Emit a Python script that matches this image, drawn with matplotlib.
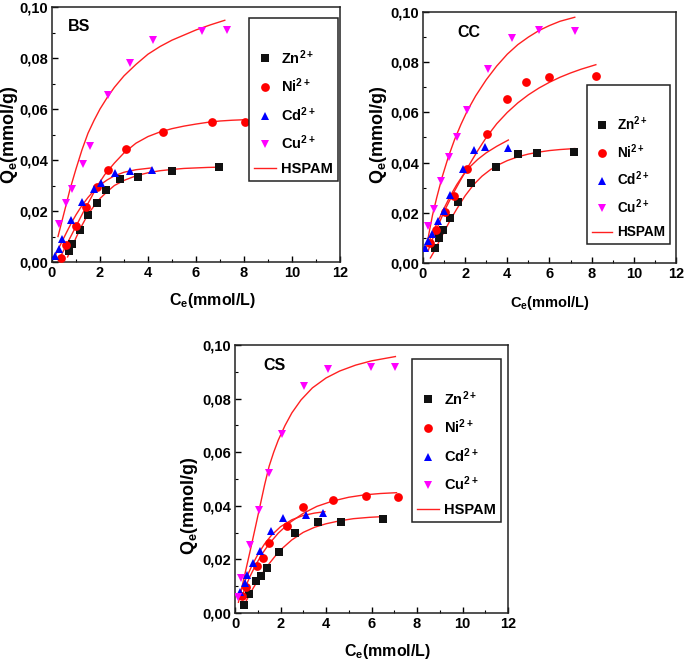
"""
Adsorption isotherms of Zn, Ni, Cd and Cu on BS, CC and CS with HSPAM fits.
"""
import matplotlib
matplotlib.use('Agg')  # no display
import matplotlib.pyplot as plt
from matplotlib.ticker import FixedLocator, MultipleLocator

FONT = 'Liberation Sans'

plt.rcParams['font.family'] = [FONT, 'DejaVu Sans']
plt.rcParams['mathtext.fontset'] = 'custom'
plt.rcParams['mathtext.rm'] = FONT + ':bold'
plt.rcParams['mathtext.bf'] = FONT + ':bold'
plt.rcParams['mathtext.it'] = FONT + ':bold'

# ---------------- data ----------------
ions = ['Zn$^{2+}$', 'Ni$^{2+}$', 'Cd$^{2+}$', 'Cu$^{2+}$']
fit_label = 'HSPAM'
xticks = [0, 2, 4, 6, 8, 10, 12]
yticks = [0.00, 0.02, 0.04, 0.06, 0.08, 0.10]
ytick_labels = ['0,00', '0,02', '0,04', '0,06', '0,08', '0,10']

# BS - measured points
bs_zn_ce = [0.69, 0.83, 1.18, 1.49, 1.86, 2.24, 2.82, 3.58, 5.01, 6.94]
bs_zn_qe = [0.0043, 0.0072, 0.0127, 0.0183, 0.0231, 0.0281, 0.0324, 0.0333, 0.0356, 0.0371]
bs_ni_ce = [0.38, 0.58, 0.99, 1.40, 1.88, 2.32, 3.10, 4.64, 6.65, 8.06]
bs_ni_qe = [0.0017, 0.0065, 0.0140, 0.0214, 0.0294, 0.0360, 0.0443, 0.0510, 0.0548, 0.0548]
bs_cd_ce = [0.11, 0.28, 0.43, 0.81, 1.26, 1.74, 2.03, 2.61, 3.24, 4.18]
bs_cd_qe = [0.0022, 0.0052, 0.0090, 0.0163, 0.0235, 0.0285, 0.0310, 0.0348, 0.0356, 0.0362]
bs_cu_ce = [0.28, 0.60, 0.85, 1.29, 1.58, 2.32, 3.26, 4.19, 6.24, 7.29]
bs_cu_qe = [0.0150, 0.0233, 0.0288, 0.0383, 0.0455, 0.0656, 0.0780, 0.0872, 0.0905, 0.0911]

# BS - HSPAM curves (traced)
bs_zn_fit_ce = [0.65, 0.8, 1.0, 1.2, 1.4, 1.6, 1.8, 2.0, 2.3, 2.6, 3.0, 3.5, 4.0, 4.5, 5.0, 5.5, 6.0, 6.5, 7.0]
bs_zn_fit_qe = [0.0020, 0.0052, 0.0095, 0.0135, 0.0170, 0.0200, 0.0226, 0.0249, 0.0276, 0.0300, 0.0320, 0.0338,
                0.0350, 0.0358, 0.0363, 0.0367, 0.0369, 0.0371, 0.0372]
bs_ni_fit_ce = [0.35, 0.5, 0.7, 1.0, 1.3, 1.6, 1.9, 2.2, 2.6, 3.0, 3.5, 4.0, 4.5, 5.0, 5.5, 6.0, 6.5, 7.0, 7.5, 8.0]
bs_ni_fit_qe = [0.0020, 0.0048, 0.0085, 0.0140, 0.0195, 0.0247, 0.0300, 0.0343, 0.0388, 0.0428, 0.0466, 0.0492,
                0.0510, 0.0523, 0.0533, 0.0541, 0.0548, 0.0553, 0.0556, 0.0558]
bs_cd_fit_ce = [0.1, 0.25, 0.4, 0.6, 0.8, 1.0, 1.25, 1.5, 1.75, 2.0, 2.3, 2.6, 3.0, 3.5, 4.15]
bs_cd_fit_qe = [0.0020, 0.0048, 0.0077, 0.0115, 0.0152, 0.0185, 0.0222, 0.0253, 0.0280, 0.0302, 0.0322, 0.0338,
                0.0352, 0.0362, 0.0369]
bs_cu_fit_ce = [0.25, 0.4, 0.55, 0.75, 1.0, 1.25, 1.5, 1.75, 2.0, 2.3, 2.6, 3.0, 3.5, 4.0, 4.5, 5.0, 5.5, 6.0,
                6.6, 7.2]
bs_cu_fit_qe = [0.0100, 0.0155, 0.0210, 0.0285, 0.0365, 0.0440, 0.0505, 0.0555, 0.0600, 0.0645, 0.0685, 0.0730,
                0.0775, 0.0815, 0.0845, 0.0870, 0.0890, 0.0910, 0.0930, 0.0948]

# CC - measured points
cc_zn_ce = [0.55, 0.75, 0.96, 1.29, 1.65, 2.29, 3.48, 4.53, 5.40, 7.17]
cc_zn_qe = [0.0060, 0.0098, 0.0132, 0.0180, 0.0242, 0.0317, 0.0384, 0.0433, 0.0440, 0.0444]
cc_ni_ce = [0.31, 0.63, 1.05, 1.47, 2.10, 3.03, 4.00, 4.89, 5.96, 8.22]
cc_ni_qe = [0.0079, 0.0132, 0.0205, 0.0268, 0.0373, 0.0515, 0.0652, 0.0720, 0.0742, 0.0744]
cc_cd_ce = [0.11, 0.24, 0.42, 0.69, 0.99, 1.29, 1.88, 2.42, 2.95, 4.03]
cc_cd_qe = [0.0060, 0.0086, 0.0117, 0.0166, 0.0209, 0.0272, 0.0375, 0.0450, 0.0464, 0.0457]
cc_cu_ce = [0.24, 0.50, 0.86, 1.25, 1.62, 2.10, 3.07, 4.20, 5.52, 7.23]
cc_cu_qe = [0.0148, 0.0217, 0.0327, 0.0423, 0.0503, 0.0609, 0.0771, 0.0897, 0.0927, 0.0923]

# CC - HSPAM curves (traced)
cc_zn_fit_ce = [0.35, 0.5, 0.7, 0.9, 1.1, 1.3, 1.6, 2.0, 2.4, 2.8, 3.2, 3.6, 4.0, 4.5, 5.0, 5.5, 6.0, 6.5, 7.2]
cc_zn_fit_qe = [0.0020, 0.0042, 0.0075, 0.0108, 0.0140, 0.0172, 0.0215, 0.0268, 0.0312, 0.0346, 0.0372, 0.0392,
                0.0408, 0.0423, 0.0434, 0.0442, 0.0448, 0.0452, 0.0456]
cc_ni_fit_ce = [0.25, 0.4, 0.7, 1.0, 1.4, 1.8, 2.2, 2.6, 3.0, 3.5, 4.0, 4.5, 5.0, 5.5, 6.0, 6.5, 7.0, 7.5, 8.2]
cc_ni_fit_qe = [0.0050, 0.0085, 0.0145, 0.0205, 0.0272, 0.0333, 0.0392, 0.0448, 0.0500, 0.0555, 0.0600, 0.0638,
                0.0670, 0.0697, 0.0720, 0.0740, 0.0757, 0.0772, 0.0790]
cc_cd_fit_ce = [0.1, 0.3, 0.5, 0.75, 1.0, 1.3, 1.6, 1.9, 2.2, 2.6, 3.0, 3.5, 4.05]
cc_cd_fit_qe = [0.0050, 0.0090, 0.0128, 0.0174, 0.0218, 0.0268, 0.0312, 0.0350, 0.0381, 0.0413, 0.0439, 0.0465,
                0.0490]
cc_cu_fit_ce = [0.15, 0.3, 0.45, 0.65, 0.9, 1.2, 1.5, 1.8, 2.1, 2.5, 3.0, 3.5, 4.0, 4.5, 5.0, 5.5, 6.0, 6.5, 7.2]
cc_cu_fit_qe = [0.0055, 0.0125, 0.0190, 0.0260, 0.0340, 0.0422, 0.0492, 0.0552, 0.0606, 0.0666, 0.0730, 0.0785,
                0.0832, 0.0870, 0.0900, 0.0926, 0.0946, 0.0963, 0.0979]

# CS - measured points
cs_zn_ce = [0.41, 0.61, 0.92, 1.14, 1.40, 1.95, 2.65, 3.63, 4.65, 6.51]
cs_zn_qe = [0.0031, 0.0071, 0.0118, 0.0137, 0.0168, 0.0226, 0.0298, 0.0339, 0.0339, 0.0350]
cs_ni_ce = [0.31, 0.47, 0.98, 1.23, 1.51, 2.28, 2.99, 4.29, 5.75, 7.16]
cs_ni_qe = [0.0065, 0.0097, 0.0174, 0.0205, 0.0261, 0.0325, 0.0395, 0.0420, 0.0437, 0.0432]
cs_cd_ce = [0.22, 0.44, 0.54, 0.78, 1.10, 1.60, 2.12, 3.12, 3.88]
cs_cd_qe = [0.0079, 0.0111, 0.0142, 0.0188, 0.0233, 0.0305, 0.0356, 0.0365, 0.0372]
cs_cu_ce = [0.13, 0.28, 0.65, 1.05, 1.48, 2.05, 3.04, 4.10, 5.97, 7.02]
cs_cu_qe = [0.0060, 0.0131, 0.0255, 0.0386, 0.0524, 0.0667, 0.0847, 0.0911, 0.0919, 0.0919]

# CS - HSPAM curves (traced)
cs_zn_fit_ce = [0.4, 0.6, 0.8, 1.0, 1.25, 1.5, 1.8, 2.1, 2.5, 3.0, 3.5, 4.0, 4.6, 5.2, 5.9, 6.55]
cs_zn_fit_qe = [0.0030, 0.0063, 0.0093, 0.0121, 0.0154, 0.0184, 0.0216, 0.0243, 0.0273, 0.0301, 0.0320, 0.0333,
                0.0344, 0.0352, 0.0357, 0.0360]
cs_ni_fit_ce = [0.3, 0.45, 0.65, 0.9, 1.2, 1.5, 1.9, 2.4, 3.0, 3.6, 4.3, 5.0, 5.7, 6.4, 7.1]
cs_ni_fit_qe = [0.0060, 0.0095, 0.0135, 0.0178, 0.0222, 0.0258, 0.0298, 0.0337, 0.0372, 0.0398, 0.0418, 0.0432,
                0.0441, 0.0446, 0.0449]
cs_cd_fit_ce = [0.15, 0.3, 0.5, 0.75, 1.0, 1.3, 1.6, 2.0, 2.5, 3.0, 3.5, 3.95]
cs_cd_fit_qe = [0.0060, 0.0092, 0.0132, 0.0178, 0.0218, 0.0258, 0.0290, 0.0322, 0.0348, 0.0364, 0.0373, 0.0378]
cs_cu_fit_ce = [0.15, 0.3, 0.5, 0.7, 0.9, 1.1, 1.3, 1.5, 1.7, 1.9, 2.2, 2.5, 2.9, 3.4, 4.0, 4.6, 5.3, 6.0, 7.05]
cs_cu_fit_qe = [0.0040, 0.0095, 0.0170, 0.0245, 0.0322, 0.0400, 0.0478, 0.0548, 0.0600, 0.0645, 0.0700, 0.0747,
                0.0795, 0.0840, 0.0877, 0.0903, 0.0925, 0.0941, 0.0957]

# ---------------- styling ----------------
markers = ['s', 'o', '^', 'v']
colors = ['#111111', '#ff0000', '#0000ff', '#ff00ff']
fit_color = '#ff2020'

panels = [
    dict(name='BS', rect=[0.0759, 0.6042, 0.4204, 0.3852],
         pts=[(bs_zn_ce, bs_zn_qe), (bs_ni_ce, bs_ni_qe), (bs_cd_ce, bs_cd_qe), (bs_cu_ce, bs_cu_qe)],
         fits=[(bs_zn_fit_ce, bs_zn_fit_qe), (bs_ni_fit_ce, bs_ni_fit_qe),
               (bs_cd_fit_ce, bs_cd_fit_qe), (bs_cu_fit_ce, bs_cu_fit_qe)],
         leg=(0.993, 0.957), leg_size=10.5, tag=(0.056, 0.925),
         xlab=(0.556, -0.115, 11.5), ylab=(-0.112, 0.5)),
    dict(name='CC', rect=[0.6175, 0.6027, 0.3693, 0.3792],
         pts=[(cc_zn_ce, cc_zn_qe), (cc_ni_ce, cc_ni_qe), (cc_cd_ce, cc_cd_qe), (cc_cu_ce, cc_cu_qe)],
         fits=[(cc_zn_fit_ce, cc_zn_fit_qe), (cc_ni_fit_ce, cc_ni_fit_qe),
               (cc_cd_fit_ce, cc_cd_fit_qe), (cc_cu_fit_ce, cc_cu_fit_qe)],
         leg=(0.976, 0.709), leg_size=9.8, tag=(0.137, 0.918),
         xlab=(0.5, -0.125, 10.5), ylab=(-0.135, 0.51)),
    dict(name='CS', rect=[0.3431, 0.0740, 0.3985, 0.4048],
         pts=[(cs_zn_ce, cs_zn_qe), (cs_ni_ce, cs_ni_qe), (cs_cd_ce, cs_cd_qe), (cs_cu_ce, cs_cu_qe)],
         fits=[(cs_zn_fit_ce, cs_zn_fit_qe), (cs_ni_fit_ce, cs_ni_fit_qe),
               (cs_cd_fit_ce, cs_cd_fit_qe), (cs_cu_fit_ce, cs_cu_fit_qe)],
         leg=(0.974, 0.948), leg_size=10.5, tag=(0.103, 0.925),
         xlab=(0.56, -0.11, 11.5), ylab=(-0.13, 0.4)),
]

fig = plt.figure(figsize=(6.85, 6.62), dpi=100)

for p in panels:
    ax = fig.add_axes(p['rect'])
    handles = []
    for (ce, qe), m, c, lab in zip(p['pts'], markers, colors, ions):
        h, = ax.plot(ce, qe, linestyle='none', marker=m, color=c, markersize=6.3,
                     markeredgewidth=0, label=lab, zorder=3)
        handles.append(h)
    line = None
    for ce, qe in p['fits']:
        line, = ax.plot(ce, qe, color=fit_color, linewidth=1.0, label=fit_label, zorder=2)
    handles.append(line)

    ax.set_xlim(0, 12)
    ax.set_ylim(0, 0.10)
    ax.xaxis.set_major_locator(FixedLocator(xticks))
    ax.xaxis.set_minor_locator(MultipleLocator(1))
    ax.yaxis.set_major_locator(FixedLocator(yticks))
    ax.yaxis.set_minor_locator(MultipleLocator(0.01))
    ax.set_yticklabels(ytick_labels)
    ax.set_xticklabels([str(t) for t in xticks])
    ax.tick_params(which='both', direction='in', top=False, right=False)
    ax.tick_params(which='major', length=4, width=1.0, pad=3, labelsize=10.5)
    ax.tick_params(which='minor', length=2.5, width=0.8)
    for lbl in ax.get_xticklabels() + ax.get_yticklabels():
        lbl.set_fontweight('bold')
    for s in ax.spines.values():
        s.set_linewidth(1.1)
        s.set_color('#222222')

    xl_x, xl_y, xl_size = p['xlab']
    ax.set_xlabel('C$_e$(mmol/L)', fontweight='bold', fontsize=xl_size)
    ax.xaxis.set_label_coords(xl_x, xl_y)
    ax.set_ylabel('Q$_e$(mmol/g)', fontweight='bold', fontsize=13)
    ax.yaxis.set_label_coords(*p['ylab'])

    ax.text(p['tag'][0], p['tag'][1], p['name'], transform=ax.transAxes, ha='left', va='center',
            fontweight='bold', fontsize=11.5)

    leg = ax.legend(handles=handles, loc='upper right', bbox_to_anchor=p['leg'], borderaxespad=0,
                    frameon=True, fancybox=False, edgecolor='#222222', framealpha=1,
                    prop={'weight': 'bold', 'size': p['leg_size']},
                    title=' ', title_fontsize=12, handlelength=1.5, handletextpad=0.35,
                    labelspacing=0.68, borderpad=0.35)
    leg.get_frame().set_linewidth(1.1)

fig.savefig('out.png', dpi=100)
